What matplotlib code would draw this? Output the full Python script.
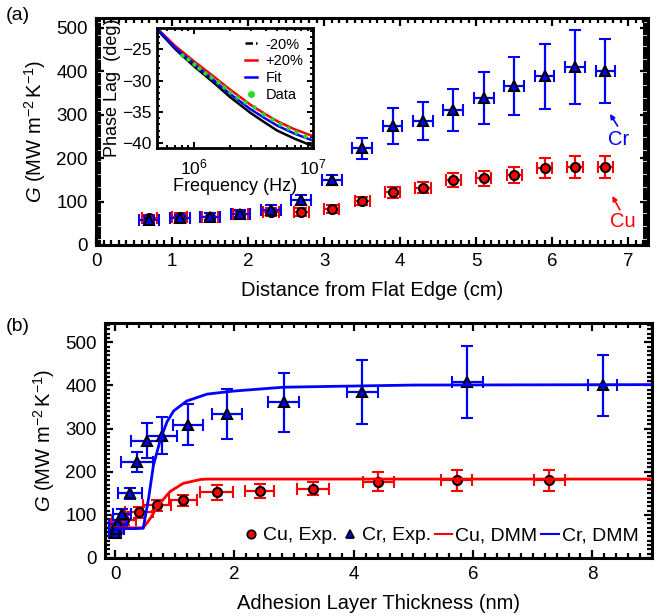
import matplotlib
matplotlib.use("Agg")
import matplotlib.pyplot as plt
from matplotlib.lines import Line2D
from matplotlib.ticker import MultipleLocator, LogLocator, NullFormatter

plt.rcParams['font.family'] = ['Liberation Sans', 'DejaVu Sans']
plt.rcParams['mathtext.fontset'] = 'custom'
plt.rcParams['mathtext.rm'] = 'Liberation Sans'
plt.rcParams['mathtext.it'] = 'Liberation Sans:italic'

# panel (a): G vs distance from flat edge
dist = [0.7, 1.1, 1.5, 1.9, 2.3, 2.7, 3.1, 3.5, 3.9, 4.3, 4.7, 5.1, 5.5, 5.9, 6.3, 6.7]
cu_a = [62, 65, 65, 71, 76, 76, 83, 101, 121, 132, 150, 154, 161, 177, 180, 180]
cu_a_err = [8, 8, 8, 8, 9, 9, 9, 10, 13, 13, 16, 17, 18, 23, 25, 25]
cr_a = [58, 62, 65, 72, 81, 104, 150, 223, 274, 286, 311, 338, 366, 389, 410, 401]
cr_a_err = [8, 8, 8, 8, 10, 12, 12, 24, 42, 43, 49, 60, 67, 75, 85, 73]
cu_a_xerr = 0.1
cr_a_xerr = 0.13

# inset: phase lag vs frequency
freq = [5e5, 7e5, 1e6, 1.5e6, 2e6, 3e6, 4e6, 5e6, 7e6, 1e7]
fit = [-21.9, -24.8, -27.3, -30.1, -32.1, -34.6, -36.1, -37.2, -38.5, -39.6]
plus20 = [-21.8, -24.5, -26.9, -29.5, -31.4, -33.9, -35.4, -36.5, -37.8, -38.9]
minus20 = [-22.0, -25.0, -27.7, -30.5, -32.6, -35.2, -36.8, -38.0, -39.3, -40.5]
data_f = [8e5, 9e5, 1e6, 1.1e6, 1.25e6, 1.4e6, 1.6e6, 1.8e6, 2e6, 2.3e6,
          2.7e6, 3.2e6, 3.8e6, 4.5e6, 5.3e6, 6.2e6, 7.2e6, 8.5e6, 1e7]
data_p = [-25.9, -26.6, -27.4, -28.0, -28.8, -29.5, -30.3, -31.1, -31.8, -32.6,
          -33.4, -34.3, -35.3, -36.1, -36.9, -37.6, -38.2, -38.9, -39.6]

# panel (b): G vs adhesion layer thickness
cu_t = [0.0, 0.02, 0.05, 0.15, 0.4, 0.7, 1.14, 1.7, 2.42, 3.32, 4.41, 5.73, 7.28]
cu_t_err = [0.1, 0.1, 0.12, 0.2, 0.24, 0.24, 0.24, 0.27, 0.24, 0.27, 0.26, 0.26, 0.26]
cu_b = [62, 70, 78, 88, 106, 122, 134, 152, 155, 161, 177, 180, 180]
cu_b_err = [10, 10, 10, 12, 13, 13, 13, 17, 17, 16, 22, 25, 25]
cr_t = [0.0, 0.02, 0.05, 0.11, 0.25, 0.37, 0.53, 0.79, 1.22, 1.87, 2.83, 4.14, 5.9, 8.17]
cr_t_err = [0.1, 0.12, 0.15, 0.15, 0.2, 0.27, 0.26, 0.25, 0.25, 0.25, 0.26, 0.26, 0.26, 0.25]
cr_b = [58, 68, 78, 101, 150, 223, 272, 284, 309, 334, 361, 385, 408, 400]
cr_b_err = [10, 10, 10, 12, 13, 23, 41, 43, 48, 57, 68, 74, 83, 71]

dmm_cu_t = [0.0, 0.3, 0.47, 0.59, 0.72, 0.92, 1.14, 1.43, 1.54, 3.0, 9.0]
dmm_cu = [70, 70, 70, 92, 122, 154, 173, 182, 183, 183, 183]
dmm_cr_t = [0.0, 0.3, 0.47, 0.56, 0.64, 0.76, 0.87, 0.98, 1.2, 1.54, 1.98, 2.82, 3.66, 5.0, 9.0]
dmm_cr = [68, 68, 69, 138, 214, 276, 316, 341, 364, 380, 387, 396, 398, 401, 402]

RED = '#ff0000'
BLUE = '#0000ff'
GREEN = '#22dd22'
GLABEL = r'$G$ (MW m$^{-2}\,$K$^{-1}$)'


def style_axes(ax, fs=13):
    for s in ax.spines.values():
        s.set_linewidth(2.2)
    ax.tick_params(which='both', direction='in', top=True, right=True,
                   width=1.6, labelsize=fs, pad=6)
    ax.tick_params(which='major', length=6)
    ax.tick_params(which='minor', length=3.5)


fig = plt.figure(figsize=(6.72, 6.16), dpi=100)

# ---- panel (a)
ax1 = fig.add_axes([0.1429, 0.6023, 0.8214, 0.3685])
ax1.errorbar(dist, cu_a, yerr=cu_a_err, xerr=cu_a_xerr, fmt='o', color=RED,
             mfc=RED, mec='black', mew=1.5, ms=6.5, capsize=4, elinewidth=1.6,
             capthick=1.6, zorder=3)
ax1.errorbar(dist, cr_a, yerr=cr_a_err, xerr=cr_a_xerr, fmt='^', color=BLUE,
             mfc=BLUE, mec='black', mew=1.5, ms=6.5, capsize=4, elinewidth=1.6,
             capthick=1.6, zorder=4)
ax1.set_xlim(0, 7.26)
ax1.set_ylim(0, 523)
ax1.xaxis.set_major_locator(MultipleLocator(1))
ax1.xaxis.set_minor_locator(MultipleLocator(0.1))
ax1.yaxis.set_major_locator(MultipleLocator(100))
ax1.yaxis.set_minor_locator(MultipleLocator(5))
style_axes(ax1, 13.5)
ax1.set_xlabel('Distance from Flat Edge (cm)', fontsize=14.5, labelpad=8)
ax1.set_ylabel(GLABEL, fontsize=14.5, labelpad=6)
# Cr / Cu labels with small arrows
ax1.annotate('', xy=(6.76, 302), xytext=(6.86, 274),
             arrowprops=dict(arrowstyle='-|>', color=BLUE, lw=1.2,
                             mutation_scale=7, shrinkA=0, shrinkB=0))
ax1.text(6.87, 242, 'Cr', color=BLUE, fontsize=14.5, ha='center', va='center')
ax1.annotate('', xy=(6.79, 113), xytext=(6.89, 81),
             arrowprops=dict(arrowstyle='-|>', color=RED, lw=1.2,
                             mutation_scale=7, shrinkA=0, shrinkB=0))
ax1.text(6.93, 55, 'Cu', color=RED, fontsize=14.5, ha='center', va='center')
fig.text(0.008, 0.975, '(a)', fontsize=14, va='center')

# ---- inset
axi = fig.add_axes([0.2336, 0.7597, 0.2321, 0.1948])
axi.plot(freq, minus20, color='black', lw=1.8)
axi.plot(freq, plus20, color=RED, lw=1.8)
axi.plot(freq, fit, color=BLUE, lw=1.8)
axi.plot(data_f, data_p, 'o', color=GREEN, ms=3.2, mew=0)
axi.set_xscale('log')
axi.set_xlim(4.9e5, 1e7)
axi.set_ylim(-40.8, -21.6)
axi.xaxis.set_major_locator(LogLocator(base=10, numticks=10))
axi.xaxis.set_minor_locator(LogLocator(base=10, subs=range(2, 10), numticks=10))
axi.xaxis.set_minor_formatter(NullFormatter())
axi.yaxis.set_major_locator(MultipleLocator(5))
axi.yaxis.set_minor_locator(MultipleLocator(1))
for s in axi.spines.values():
    s.set_linewidth(2)
axi.tick_params(which='both', direction='in', top=True, right=True, width=1.4,
                labelsize=12.5, pad=4)
axi.tick_params(which='major', length=4)
axi.tick_params(which='minor', length=2.5)
axi.tick_params(axis='x', pad=7)
axi.set_xlabel('Frequency (Hz)', fontsize=13, labelpad=0)
axi.set_ylabel('Phase Lag  (deg)', fontsize=13, labelpad=1)
inset_handles = [
    Line2D([], [], color='black', lw=1.8, ls=(0, (3, 1.2, 1, 1.2))),
    Line2D([], [], color=RED, lw=1.8),
    Line2D([], [], color=BLUE, lw=1.8),
    Line2D([], [], ls='none', marker='o', color=GREEN, mfc=GREEN, ms=5, mew=0),
]
axi.legend(inset_handles, ['-20%', '+20%', 'Fit', 'Data'], loc='upper right',
           frameon=False, fontsize=10.5, handlelength=0.8, handletextpad=0.6,
           labelspacing=0.2, borderaxespad=0.25)

# ---- panel (b)
ax2 = fig.add_axes([0.1563, 0.0942, 0.8140, 0.3815])
ax2.errorbar(cu_t, cu_b, yerr=cu_b_err, xerr=cu_t_err, fmt='o', color=RED,
             mfc=RED, mec='black', mew=1.5, ms=6.5, capsize=4, elinewidth=1.6,
             capthick=1.6, zorder=3)
ax2.errorbar(cr_t, cr_b, yerr=cr_b_err, xerr=cr_t_err, fmt='^', color=BLUE,
             mfc=BLUE, mec='black', mew=1.5, ms=6.5, capsize=4, elinewidth=1.6,
             capthick=1.6, zorder=4)
ax2.plot(dmm_cu_t, dmm_cu, color=RED, lw=2, zorder=5)
ax2.plot(dmm_cr_t, dmm_cr, color=BLUE, lw=2, zorder=5)
ax2.set_xlim(-0.17, 9.0)
ax2.set_ylim(0, 545)
ax2.xaxis.set_major_locator(MultipleLocator(2))
ax2.xaxis.set_minor_locator(MultipleLocator(0.2))
ax2.yaxis.set_major_locator(MultipleLocator(100))
ax2.yaxis.set_minor_locator(MultipleLocator(10))
style_axes(ax2, 13.5)
ax2.set_xlabel('Adhesion Layer Thickness (nm)', fontsize=14.5, labelpad=8)
ax2.set_ylabel(GLABEL, fontsize=14.5, labelpad=6)
handles = [
    Line2D([], [], ls='none', marker='o', mfc=RED, mec='black', mew=1.3, ms=6),
    Line2D([], [], ls='none', marker='^', mfc=BLUE, mec='black', mew=1.3, ms=6),
    Line2D([], [], color=RED, lw=1.5),
    Line2D([], [], color=BLUE, lw=1.5),
]
labels = ['Cu, Exp.', 'Cr, Exp.', 'Cu, DMM', 'Cr, DMM']
ax2.legend(handles, labels, loc='lower right', ncol=4, frameon=False,
           fontsize=14, handlelength=0.9, handletextpad=0.15,
           columnspacing=0.2, borderaxespad=0.3)
fig.text(0.008, 0.47, '(b)', fontsize=14, va='center')

fig.savefig('out.png', dpi=100)
